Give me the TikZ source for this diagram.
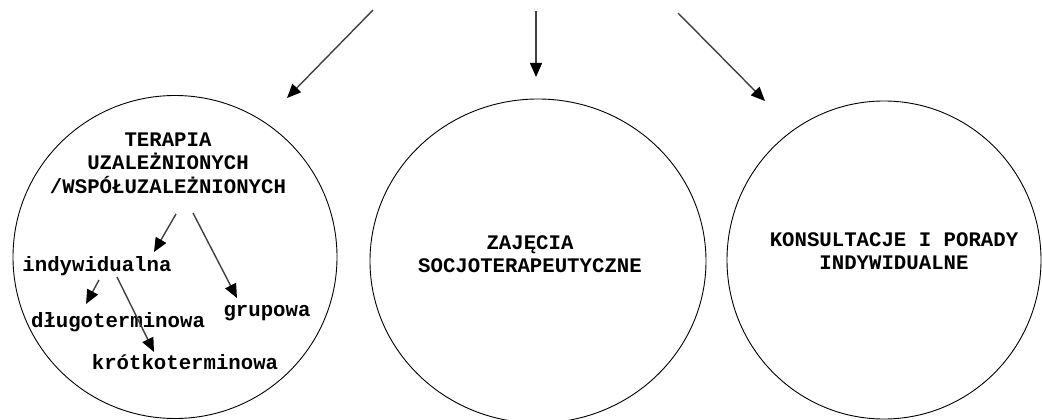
\documentclass[tikz,border=0pt]{standalone}
\usepackage{fontspec}
\setmonofont{Liberation Mono}
\usetikzlibrary{shapes.geometric, arrows.meta, positioning, calc}

\begin{document}
\begin{tikzpicture}[x=1pt, y=-1pt, every node/.style={font=\ttfamily\bfseries\fontsize{20.7}{23.5}\selectfont}]
    \tikzset{kolo/.style={ellipse, draw=black, line width=0.9pt, inner sep=0pt, outer sep=0pt},
             napis/.style={align=center, inner sep=0pt},
             strzalka/.style={black!75, line width=1.4pt,
                              -{Triangle[length=14pt, width=12pt, color=black]}}}
    \useasboundingbox (0,0) rectangle (1042,420);
    % trzy kola
    \node[kolo, minimum width=324pt, minimum height=323pt] (k1) at (175,257) {};
    \node[kolo, minimum width=336pt, minimum height=324pt] (k2) at (538,261) {};
    \node[kolo, minimum width=314pt, minimum height=318pt] (k3) at (884,260) {};
    % strzalki z gory
    \coordinate (zL) at (373,10);
    \coordinate (zM) at (536,11);
    \coordinate (zP) at (678,13);
    \foreach \a/\b/\dx/\dy in {zL/k1/112/-159, zM/k2/-2/-184, zP/k3/-119/-159}
      \draw[strzalka] (\a) -- ($(\b)+(\dx,\dy)$);
    % napisy
    \node[napis] (tytul) at (168,163) {TERAPIA\\UZALEŻNIONYCH\\/WSPÓŁUZALEŻNIONYCH};
    \node[napis] (indyw) at (97,266) {indywidualna};
    \node[napis] (grupowa) at (267,313) {grupowa};
    \node[napis] (dlugo) at (118,322) {długoterminowa};
    \node[napis] (krotko) at (185,362) {krótkoterminowa};
    \node[napis] (zajecia) at (530,254) {ZAJĘCIA\\SOCJOTERAPEUTYCZNE};
    \node[napis] (porady) at (894,251) {KONSULTACJE I PORADY\\INDYWIDUALNE};
    % podzial terapii
    \foreach \a/\ax/\ay/\b/\bx/\by in {tytul/8/51/indyw/57/-14, tytul/25/50/grupowa/-30/-15,
                                      indyw/2/14/dlugo/-32/-18, indyw/20/11/krotko/-31/-10}
      \draw[strzalka] ($(\a)+(\ax,\ay)$) -- ($(\b)+(\bx,\by)$);
\end{tikzpicture}
\end{document}
